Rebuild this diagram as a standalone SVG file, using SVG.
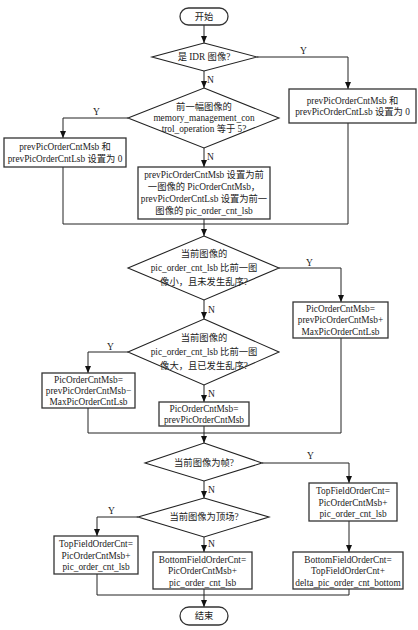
<svg xmlns="http://www.w3.org/2000/svg" width="418" height="630" viewBox="0 0 418 630">
<style>
.bg{fill:#fff}
.box{fill:#fff;stroke:#333;stroke-width:1.3}
.dia{fill:#fff;stroke:#222;stroke-width:1.1}
.ln{fill:none;stroke:#222;stroke-width:1}
.ar{fill:none;stroke:#222;stroke-width:1;marker-end:url(#ah)}
text{font-family:"Liberation Serif","Noto Sans CJK SC",serif;font-size:9.3px;fill:#222;text-anchor:middle;dominant-baseline:central}
.lb{font-size:9.5px;text-anchor:start}
</style>
<defs>
<marker id="ah" markerWidth="7" markerHeight="6" refX="7" refY="3" orient="auto" markerUnits="userSpaceOnUse">
<path d="M0,0 L7,3 L0,6 Z" fill="#111"/>
</marker>
</defs>
<rect class="bg" x="0" y="0" width="418" height="630"/>

<g id="connectors">
<line class="ar" x1="204" y1="25" x2="204" y2="43"/>
<polyline class="ar" points="257,57 348,57 348,89"/>
<line class="ar" x1="204" y1="71" x2="204" y2="88"/>
<polyline class="ar" points="128,118 63,118 63,138"/>
<line class="ar" x1="204" y1="148" x2="204" y2="167"/>
<polyline class="ln" points="63,167 63,224 348,224 348,123"/>
<line class="ln" x1="204" y1="219" x2="204" y2="224"/>
<line class="ar" x1="204" y1="224" x2="204" y2="236"/>
<polyline class="ar" points="279,268 341,268 341,302"/>
<line class="ar" x1="204" y1="300" x2="204" y2="319"/>
<polyline class="ar" points="128,352 88,352 88,373"/>
<line class="ar" x1="204" y1="385" x2="204" y2="402"/>
<polyline class="ln" points="88,408 88,433 341,433 341,338"/>
<line class="ln" x1="204" y1="426" x2="204" y2="433"/>
<line class="ar" x1="204" y1="433" x2="204" y2="443"/>
<polyline class="ar" points="262,463 349,463 349,483"/>
<line class="ar" x1="349" y1="521" x2="349" y2="552"/>
<line class="ar" x1="204" y1="481" x2="204" y2="498"/>
<polyline class="ar" points="138,517 97,517 97,536"/>
<line class="ar" x1="204" y1="537" x2="204" y2="552"/>
<polyline class="ln" points="97,574 97,595 349,595 349,589"/>
<line class="ln" x1="204" y1="589" x2="204" y2="595"/>
<line class="ar" x1="204" y1="595" x2="204" y2="607"/>
<text class="lb" x="300" y="51">Y</text>
<text class="lb" x="207" y="80">N</text>
<text class="lb" x="93" y="112">Y</text>
<text class="lb" x="207" y="157">N</text>
<text class="lb" x="306" y="263">Y</text>
<text class="lb" x="208" y="310">N</text>
<text class="lb" x="107" y="347">Y</text>
<text class="lb" x="208" y="394">N</text>
<text class="lb" x="307" y="456">Y</text>
<text class="lb" x="208" y="490">N</text>
<text class="lb" x="108" y="511">Y</text>
<text class="lb" x="208" y="544">N</text>
</g>

<g id="start">
<rect class="box" x="180" y="8" width="48" height="17" rx="8.5"/>
<text x="204" y="16.5">开始</text>
</g>

<g id="d-idr">
<polygon class="dia" points="204,43 257,57 204,71 152,57"/>
<text x="204" y="57">是 IDR 图像?</text>
</g>

<g id="b-idr-reset">
<rect class="box" x="289" y="89" width="127" height="34"/>
<text x="352.5" y="100.5">prevPicOrderCntMsb 和</text>
<text x="352.5" y="112">prevPicOrderCntLsb 设置为 0</text>
</g>

<g id="d-mmco">
<polygon class="dia" points="204,88 279,118 204,148 128,118"/>
<text x="204" y="107">前一幅图像的</text>
<text x="204" y="118">memory_management_con</text>
<text x="204" y="129">trol_operation 等于 5?</text>
</g>

<g id="b-mmco-reset">
<rect class="box" x="4" y="138" width="122" height="29"/>
<text x="65" y="147">prevPicOrderCntMsb 和</text>
<text x="65" y="158.5">prevPicOrderCntLsb 设置为 0</text>
</g>

<g id="b-prev">
<rect class="box" x="138" y="167" width="132" height="52"/>
<text x="204" y="174.5">prevPicOrderCntMsb 设置为前</text>
<text x="204" y="186.8">一图像的 PicOrderCntMsb，</text>
<text x="204" y="199.1">prevPicOrderCntLsb 设置为前一</text>
<text x="204" y="211.4">图像的 pic_order_cnt_lsb</text>
</g>

<g id="d-less">
<polygon class="dia" points="204,236 279,268 204,300 128,268"/>
<text x="204" y="254">当前图像的</text>
<text x="204" y="268">pic_order_cnt_lsb 比前一图</text>
<text x="204" y="282">像小，且未发生乱序?</text>
</g>

<g id="b-plus">
<rect class="box" x="293" y="302" width="95" height="36"/>
<text x="340.5" y="308.5">PicOrderCntMsb=</text>
<text x="340.5" y="320">prevPicOrderCntMsb+</text>
<text x="340.5" y="331.5">MaxPicOrderCntLsb</text>
</g>

<g id="d-greater">
<polygon class="dia" points="204,319 279,352 204,385 128,352"/>
<text x="204" y="338">当前图像的</text>
<text x="204" y="352">pic_order_cnt_lsb 比前一图</text>
<text x="204" y="366">像大，且已发生乱序?</text>
</g>

<g id="b-minus">
<rect class="box" x="42" y="373" width="93" height="35"/>
<text x="88.5" y="379.5">PicOrderCntMsb=</text>
<text x="88.5" y="390.5">prevPicOrderCntMsb−</text>
<text x="88.5" y="401.5">MaxPicOrderCntLsb</text>
</g>

<g id="b-equal">
<rect class="box" x="159" y="402" width="90" height="24"/>
<text x="204" y="408.5">PicOrderCntMsb=</text>
<text x="204" y="419.5">prevPicOrderCntMsb</text>
</g>

<g id="d-frame">
<polygon class="dia" points="204,443 262,463 204,481 145,463"/>
<text x="204" y="463">当前图像为帧?</text>
</g>

<g id="b-frame-top">
<rect class="box" x="309" y="483" width="88" height="38"/>
<text x="353" y="491">TopFieldOrderCnt=</text>
<text x="353" y="502.5">PicOrderCntMsb+</text>
<text x="353" y="514">pic_order_cnt_lsb</text>
</g>

<g id="b-frame-bottom">
<rect class="box" x="293" y="552" width="110" height="37"/>
<text x="348" y="559.5">BottomFieldOrderCnt=</text>
<text x="348" y="571">TopFieldOrderCnt+</text>
<text x="348" y="582.5">delta_pic_order_cnt_bottom</text>
</g>

<g id="d-topfield">
<polygon class="dia" points="204,498 269,517 204,537 138,517"/>
<text x="204" y="517">当前图像为顶场?</text>
</g>

<g id="b-top">
<rect class="box" x="54" y="536" width="84" height="38"/>
<text x="96" y="544">TopFieldOrderCnt=</text>
<text x="96" y="555.5">PicOrderCntMsb+</text>
<text x="96" y="567">pic_order_cnt_lsb</text>
</g>

<g id="b-bottom">
<rect class="box" x="153" y="552" width="99" height="37"/>
<text x="202.5" y="559.5">BottomFieldOrderCnt=</text>
<text x="202.5" y="571">PicOrderCntMsb+</text>
<text x="202.5" y="582.5">pic_order_cnt_lsb</text>
</g>

<g id="end">
<rect class="box" x="180" y="607" width="48" height="18" rx="9"/>
<text x="204" y="616">结束</text>
</g>
</svg>
